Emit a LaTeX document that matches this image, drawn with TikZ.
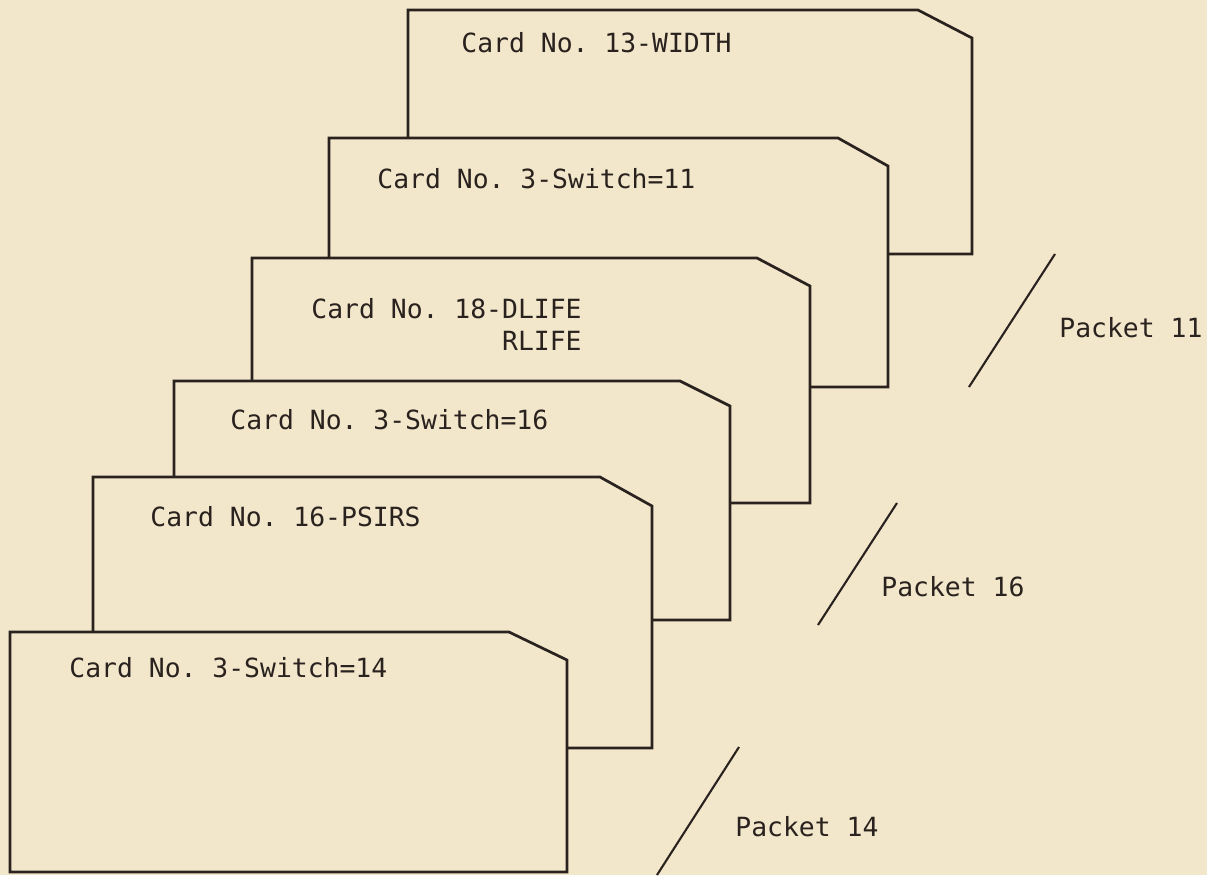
\documentclass[tikz,border=0pt]{standalone}
\usepackage{fontspec}
\setmonofont{DejaVu Sans Mono}
\usetikzlibrary{positioning}
\definecolor{paper}{RGB}{242,231,203}
\definecolor{ink}{RGB}{42,34,30}

\begin{document}
\begin{tikzpicture}[
    x=0.5pt, y=-0.5pt,
    card/.style={draw=ink, fill=paper, line width=1.35pt, line join=miter},
    slash/.style={draw=ink, line width=1.05pt},
    lbl/.style={font=\ttfamily\fontsize{13.2}{16}\selectfont, text=ink, inner sep=0pt, anchor=west, align=left}
  ]
  \fill[paper] (0,0) rectangle (1207,875);
  \useasboundingbox (0,0) rectangle (1207,875);

  % deck, back to front
  \path[card] (408,254) -- (408,10)  -- (918,10)  -- (972,38)  -- (972,254) -- cycle;
  \path[card] (329,387) -- (329,138) -- (838,138) -- (888,166) -- (888,387) -- cycle;
  \path[card] (252,503) -- (252,258) -- (757,258) -- (810,286) -- (810,503) -- cycle;
  \path[card] (174,620) -- (174,381) -- (680,381) -- (730,406) -- (730,620) -- cycle;
  \path[card] (93,748)  -- (93,477)  -- (600,477) -- (652,506) -- (652,748) -- cycle;
  \path[card] (10,872)  -- (10,632)  -- (509,632) -- (567,660) -- (567,872) -- cycle;

  \node[lbl] (width)  at (461,43)  {Card No. 13-WIDTH};
  \node[lbl] (sw11)   at (377,179) {Card No. 3-Switch=11};
  \node[lbl] (dlife)  at (311,324) {Card No. 18-DLIFE\\\hphantom{Card No. 18-}RLIFE};
  \node[lbl] (sw16)   at (230,420) {Card No. 3-Switch=16};
  \node[lbl] (psirs)  at (150,517) {Card No. 16-PSIRS};
  \node[lbl] (sw14)   at (69,668)  {Card No. 3-Switch=14};

  % packet marks
  \draw[slash] (1055,254) -- (969,387);
  \draw[slash] (897,503) -- (818,625);
  \draw[slash] (739,747) -- (657,875);

  \node[lbl] (p11) at (1059,328) {Packet 11};
  \node[lbl] (p16) at (881,587)  {Packet 16};
  \node[lbl] (p14) at (735,827)  {Packet 14};
\end{tikzpicture}
\end{document}
